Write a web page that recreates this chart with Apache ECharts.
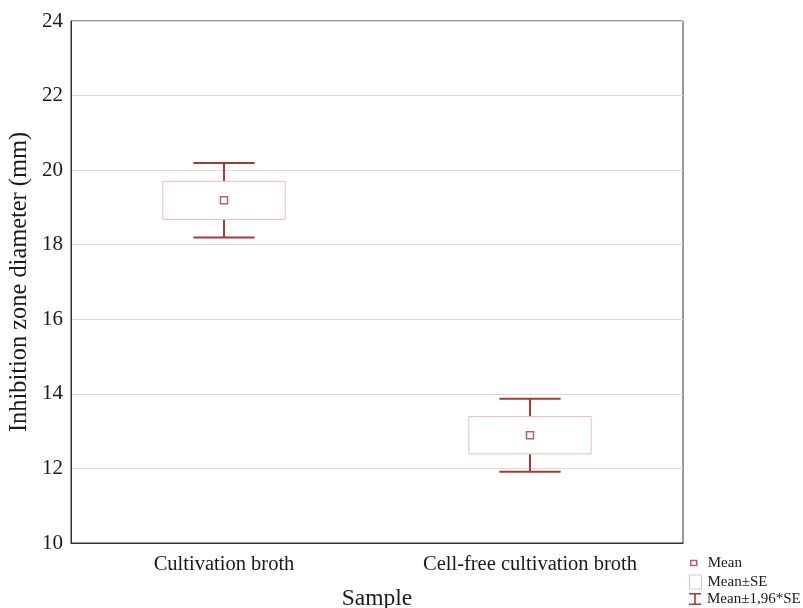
<!DOCTYPE html>
<html>
<head>
<meta charset="utf-8">
<script src="https://cdn.jsdelivr.net/npm/echarts@6/dist/echarts.min.js"></script>
<style>
  html, body { margin: 0; padding: 0; background: #fff; }
  #chart { width: 803px; height: 608px; }
</style>
</head>
<body>
<div id="chart"></div>
<script>
// data
const categories = ['Cultivation broth', 'Cell-free cultivation broth']
const means = [19.19, 12.89]
const se = [0.51, 0.50]
const yTicks = [10, 12, 14, 16, 18, 20, 22, 24]

const RED = '#a93838'
const PINK = '#efbcbc'
const FONT = '"Liberation Serif", "DejaVu Serif", serif'

const meanData = means.map((m, i) => [i, m])
const seData = means.map((m, i) => [i, m - se[i], m + se[i]])
const ciData = means.map((m, i) => [i, m - 1.96 * se[i], m + 1.96 * se[i]])

const chart = echarts.init(document.getElementById('chart'))

const legendText = (pad) => ({
  fontFamily: FONT, fontSize: 15, lineHeight: 16, color: '#1a1a1a', padding: [0, 0, 0, pad]
})

const option = {
  animation: false,
  backgroundColor: '#fff',
  grid: {
    left: 71, right: 120, top: 21, bottom: 65,
    outerBoundsMode: 'none',
    show: true, borderColor: '#333', borderWidth: 1
  },
  legend: [
    {
      orient: 'vertical', selectedMode: false, padding: 0,
      left: 690, top: 555,
      itemWidth: 6, itemHeight: 5,
      textStyle: legendText(6),
      data: [{ name: 'Mean', icon: 'rect', itemStyle: { color: '#fff', borderColor: RED, borderWidth: 1.5 } }]
    },
    {
      orient: 'vertical', selectedMode: false, padding: 0,
      left: 689, top: 574,
      itemWidth: 12, itemHeight: 14,
      textStyle: legendText(1),
      data: [{ name: 'Mean±SE', icon: 'rect', itemStyle: { color: '#fff', borderColor: PINK, borderWidth: 1 } }]
    },
    {
      orient: 'vertical', selectedMode: false, padding: 0,
      left: 689, top: 591,
      itemWidth: 12, itemHeight: 12,
      textStyle: legendText(1),
      data: [{ name: 'Mean±1,96*SE', icon: 'path://M0,0H12V1.6H6.8V10.4H12V12H0V10.4H5.2V1.6H0Z', itemStyle: { color: RED } }]
    }
  ],
  xAxis: {
    type: 'category',
    data: categories,
    boundaryGap: true,
    name: 'Sample',
    nameLocation: 'middle',
    nameGap: 44,
    nameTextStyle: { fontFamily: FONT, fontSize: 23.5, color: '#1a1a1a' },
    axisLine: { lineStyle: { color: '#333', width: 1 } },
    axisTick: { inside: true, alignWithLabel: true, length: 4, lineStyle: { color: '#333' } },
    axisLabel: { fontFamily: FONT, fontSize: 20.5, color: '#1a1a1a', margin: 11 },
    splitLine: { show: false }
  },
  yAxis: {
    type: 'value',
    min: 10, max: 24, interval: 2,
    name: 'Inhibition zone diameter (mm)',
    nameLocation: 'middle',
    nameGap: 33,
    nameTextStyle: { fontFamily: FONT, fontSize: 24.4, color: '#1a1a1a' },
    axisLine: { show: true, lineStyle: { color: '#333', width: 1 } },
    axisTick: { show: false },
    axisLabel: {
      fontFamily: FONT, fontSize: 21, color: '#1a1a1a', margin: 8,
      formatter: v => (yTicks.includes(v) ? String(v) : '')
    },
    splitLine: { show: true, lineStyle: { color: '#dcdcdc', width: 1 } }
  },
  series: [
    {
      name: 'Mean±1,96*SE',
      type: 'custom',
      z: 2,
      itemStyle: { color: RED },
      data: ciData,
      renderItem: (params, api) => {
        const x = api.value(0)
        const lo = api.coord([x, api.value(1)])
        const hi = api.coord([x, api.value(2)])
        const half = api.size([1, 0])[0] * 0.1
        const style = { stroke: RED, lineWidth: 2, fill: null }
        return {
          type: 'group',
          children: [
            { type: 'line', shape: { x1: hi[0], y1: hi[1], x2: lo[0], y2: lo[1] }, style },
            { type: 'line', shape: { x1: hi[0] - half, y1: hi[1], x2: hi[0] + half, y2: hi[1] }, style },
            { type: 'line', shape: { x1: lo[0] - half, y1: lo[1], x2: lo[0] + half, y2: lo[1] }, style }
          ]
        }
      }
    },
    {
      name: 'Mean±SE',
      type: 'custom',
      z: 3,
      itemStyle: { color: PINK },
      data: seData,
      renderItem: (params, api) => {
        const x = api.value(0)
        const lo = api.coord([x, api.value(1)])
        const hi = api.coord([x, api.value(2)])
        const half = api.size([1, 0])[0] * 0.2
        return {
          type: 'rect',
          shape: { x: hi[0] - half, y: hi[1], width: half * 2, height: lo[1] - hi[1] },
          style: { fill: '#fff', stroke: PINK, lineWidth: 1 }
        }
      }
    },
    {
      name: 'Mean',
      type: 'scatter',
      z: 4,
      symbol: 'rect',
      symbolSize: 7,
      itemStyle: { color: '#fff', borderColor: RED, borderWidth: 1.5 },
      data: meanData
    }
  ]
}

chart.setOption(option)
</script>
</body>
</html>
